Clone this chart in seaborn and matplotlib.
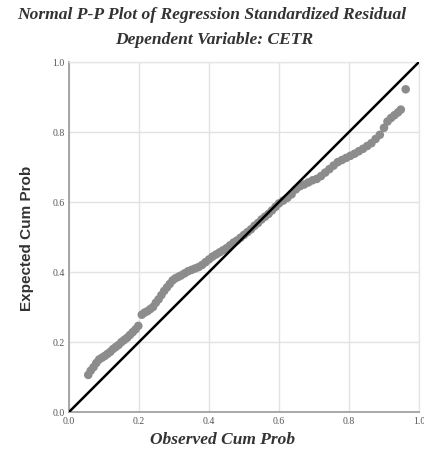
import matplotlib
matplotlib.use("Agg")
import matplotlib.pyplot as plt
import seaborn as sns
import pandas as pd

# ---- data ----
title_lines = ["Normal P-P Plot of Regression Standardized Residual",
               "Dependent Variable: CETR"]
x_label = "Observed Cum Prob"
y_label = "Expected Cum Prob"
ticks = [0.0, 0.2, 0.4, 0.6, 0.8, 1.0]
tick_labels = ["0.0", "0.2", "0.4", "0.6", "0.8", "1.0"]
diag = [0.0, 1.0]

observed = [0.055, 0.062, 0.070, 0.078, 0.086, 0.094, 0.102, 0.110, 0.118, 0.126,
            0.134, 0.142, 0.150, 0.158, 0.166, 0.174, 0.182, 0.190, 0.198,
            0.208, 0.216, 0.224, 0.232, 0.240, 0.248, 0.256, 0.264, 0.272, 0.280,
            0.288, 0.296, 0.304, 0.312, 0.320, 0.330, 0.340, 0.350, 0.360, 0.370,
            0.380, 0.390, 0.400, 0.410,
            0.420, 0.430, 0.440, 0.450, 0.460, 0.470, 0.480, 0.490, 0.500, 0.510,
            0.520, 0.530, 0.540, 0.550, 0.560, 0.570, 0.580, 0.590, 0.600,
            0.612, 0.624, 0.636, 0.648, 0.660, 0.672, 0.684, 0.696, 0.708, 0.720,
            0.732, 0.744, 0.756, 0.768, 0.780, 0.792, 0.804, 0.816, 0.828, 0.840,
            0.852, 0.864, 0.876, 0.888, 0.900, 0.910, 0.920, 0.930, 0.940, 0.948,
            0.962]
expected = [0.106, 0.118, 0.128, 0.140, 0.150, 0.155, 0.160, 0.166, 0.172, 0.180,
            0.186, 0.192, 0.200, 0.206, 0.212, 0.220, 0.228, 0.236, 0.246,
            0.278, 0.284, 0.288, 0.294, 0.300, 0.312, 0.322, 0.334, 0.346, 0.356,
            0.366, 0.376, 0.382, 0.386, 0.390, 0.396, 0.402, 0.406, 0.410, 0.414,
            0.420, 0.428, 0.436, 0.444,
            0.450, 0.456, 0.462, 0.468, 0.476, 0.484, 0.490, 0.498, 0.506, 0.514,
            0.522, 0.532, 0.540, 0.550, 0.558, 0.566, 0.576, 0.586, 0.596,
            0.604, 0.612, 0.622, 0.636, 0.645, 0.650, 0.656, 0.662, 0.666, 0.674,
            0.684, 0.694, 0.704, 0.714, 0.720, 0.726, 0.732, 0.738, 0.745, 0.752,
            0.760, 0.768, 0.780, 0.792, 0.812, 0.830, 0.840, 0.848, 0.856, 0.864,
            0.922]

df = pd.DataFrame({"observed": observed, "expected": expected})
ref = pd.DataFrame({"x": diag, "y": diag})

sns.set_style("white")

fig = plt.figure(figsize=(4.24, 4.52), dpi=100)
ax = fig.add_axes([69 / 424, 1 - 413 / 452, 350 / 424, 350 / 452])

sns.scatterplot(data=df, x="observed", y="expected", ax=ax, color="#8c8c8c",
                s=38, edgecolor="none", zorder=3)
sns.lineplot(data=ref, x="x", y="y", ax=ax, color="black", linewidth=1.8,
             zorder=4)

ax.set_xlim(0, 1)
ax.set_ylim(0, 1)
ax.set_xticks(ticks)
ax.set_yticks(ticks)
ax.set_xticklabels(tick_labels, fontsize=7, color="#555555",
                   family="Liberation Serif")
ax.set_yticklabels(tick_labels, fontsize=7, color="#555555",
                   family="Liberation Serif")
ax.tick_params(axis="both", length=0, pad=3)
ax.grid(True, color="#e2e2e2", linewidth=1.0)
ax.set_axisbelow(True)
for side in ["top", "right"]:
    ax.spines[side].set_color("#e6e6e6")
    ax.spines[side].set_linewidth(1.0)
for side in ["left", "bottom"]:
    ax.spines[side].set_color("#999999")
    ax.spines[side].set_linewidth(1.2)

ax.set_xlabel(x_label, family="Liberation Serif", style="italic",
              fontweight="bold", fontsize=12.5, color="#333333", labelpad=2)
ax.xaxis.set_label_coords(0.44, -0.055)
ax.set_ylabel(y_label, family="Liberation Sans", fontweight="bold",
              fontsize=11, color="#333333", labelpad=13)

fig.text(0.5, 1 - 15 / 452, title_lines[0], ha="center", va="center",
         family="Liberation Serif", style="italic", fontweight="bold",
         fontsize=12.6, color="#333333")
fig.text(0.505, 1 - 40 / 452, title_lines[1], ha="center", va="center",
         family="Liberation Serif", style="italic", fontweight="bold",
         fontsize=12.6, color="#333333")

fig.savefig("out.png", dpi=100)
